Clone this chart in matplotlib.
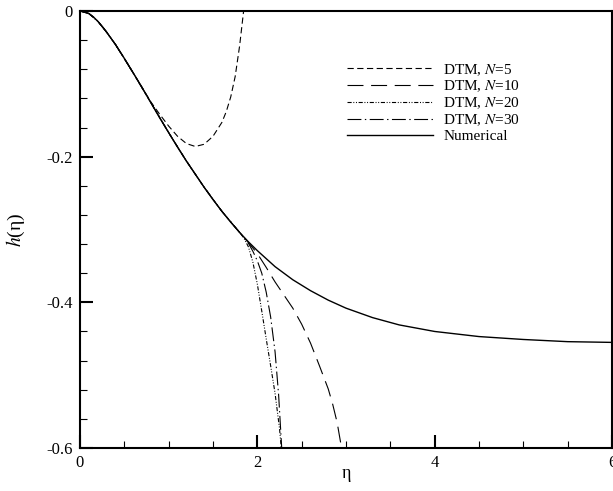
import numpy as np
import matplotlib
matplotlib.use("Agg")
import matplotlib.pyplot as plt

plt.rcParams['font.family'] = ['Liberation Serif', 'DejaVu Serif']
plt.rcParams['mathtext.fontset'] = 'stix'
plt.rcParams['axes.unicode_minus'] = False
plt.rcParams['lines.scale_dashes'] = False

eta_num = [0, 0.05, 0.1, 0.15, 0.2, 0.25, 0.3, 0.4, 0.5, 0.6, 0.7, 0.8, 0.9, 1.0, 1.1,
           1.2, 1.3, 1.4, 1.5, 1.6, 1.7, 1.8, 1.9, 2.0, 2.2, 2.4, 2.6, 2.8, 3.0, 3.3,
           3.6, 4.0, 4.5, 5.0, 5.5, 6.0]
h_num = [0, -0.001, -0.0035, -0.008, -0.014, -0.021, -0.029, -0.046, -0.065, -0.085,
         -0.105, -0.126, -0.147, -0.167, -0.187, -0.206, -0.224, -0.242, -0.259,
         -0.275, -0.290, -0.304, -0.317, -0.329, -0.351, -0.369, -0.384, -0.397,
         -0.408, -0.421, -0.431, -0.440, -0.447, -0.451, -0.454, -0.455]

# DTM benaderingen
eta_n5 = [0, 0.05, 0.1, 0.15, 0.2, 0.25, 0.3, 0.4, 0.5, 0.6, 0.7, 0.8, 0.9, 1.0, 1.1,
          1.2, 1.3, 1.4, 1.5, 1.6, 1.65, 1.7, 1.75, 1.8, 1.85]
h_n5 = [0, -0.001, -0.0035, -0.008, -0.014, -0.021, -0.029, -0.046, -0.065, -0.085,
        -0.105, -0.125, -0.142, -0.158, -0.172, -0.182, -0.186, -0.183, -0.172,
        -0.153, -0.138, -0.118, -0.090, -0.048, 0.005]

eta_n10 = [0, 0.1, 0.2, 0.3, 0.4, 0.6, 0.8, 1.0, 1.2, 1.4, 1.6, 1.8, 1.9, 2.0, 2.1,
           2.2, 2.3, 2.4, 2.5, 2.6, 2.7, 2.8, 2.85, 2.9, 2.95]
h_n10 = [0, -0.0035, -0.014, -0.029, -0.046, -0.085, -0.126, -0.167, -0.206, -0.242,
         -0.275, -0.304, -0.318, -0.333, -0.352, -0.372, -0.390, -0.408, -0.430,
         -0.456, -0.487, -0.519, -0.540, -0.565, -0.600]

eta_n20 = [0, 0.1, 0.2, 0.3, 0.4, 0.6, 0.8, 1.0, 1.2, 1.4, 1.6, 1.8, 1.85, 1.9, 1.95,
           2.0, 2.05, 2.1, 2.15, 2.2, 2.25, 2.27]
h_n20 = [0, -0.0035, -0.014, -0.029, -0.046, -0.085, -0.126, -0.167, -0.206, -0.242,
         -0.275, -0.304, -0.312, -0.324, -0.345, -0.375, -0.412, -0.450, -0.487,
         -0.525, -0.573, -0.600]

eta_n30 = [0, 0.1, 0.2, 0.3, 0.4, 0.6, 0.8, 1.0, 1.2, 1.4, 1.6, 1.8, 1.85, 1.9, 1.95,
           2.0, 2.05, 2.1, 2.15, 2.2, 2.24, 2.275]
h_n30 = [0, -0.0035, -0.014, -0.029, -0.046, -0.085, -0.126, -0.167, -0.206, -0.242,
         -0.275, -0.304, -0.311, -0.319, -0.330, -0.343, -0.360, -0.386, -0.420,
         -0.468, -0.527, -0.600]

fig = plt.figure(figsize=(6.13, 4.91), dpi=100)
ax = fig.add_axes([80/613, 1 - 448/491, 532/613, 437/491])

lw = 0.8
ax.plot(eta_n5, h_n5, color='k', lw=lw, dashes=(4.5, 2.5), label='DTM, $N$=5')
ax.plot(eta_n10, h_n10, color='k', lw=lw, dashes=(11.5, 5.5), label='DTM, $N$=10')
ax.plot(eta_n20, h_n20, color='k', lw=lw, dashes=(3, 1.2, 0.7, 1.2, 0.7, 1.2), label='DTM, $N$=20')
ax.plot(eta_n30, h_n30, color='k', lw=lw, dashes=(10, 2.5, 1, 2.5), label='DTM, $N$=30')
ax.plot(eta_num, h_num, color='k', lw=1.0, label='Numerical')

ax.set_xlim(0, 6)
ax.set_ylim(-0.6, 0)
ax.set_xticks([0, 2, 4, 6])
ax.set_xticklabels(['0', '2', '4', '6'])
ax.set_yticks([0, -0.2, -0.4, -0.6])
ax.set_yticklabels(['0', '-0.2', '-0.4', '-0.6'])
ax.set_xticks(np.arange(0, 6.01, 0.5), minor=True)
ax.set_yticks(np.arange(-0.6, 0.001, 0.04), minor=True)

ax.tick_params(which='both', direction='in', top=False, right=False, labelsize=12)
ax.tick_params(which='major', length=9.5, width=1.5, pad=5)
ax.tick_params(which='minor', length=5, width=0.8)
for s in ax.spines.values():
    s.set_linewidth(1.5)

ax.set_xlabel('η', fontsize=13)
ax.set_ylabel('$h$(η)', fontsize=14)
ax.xaxis.set_label_coords(0.5, -0.04)
ax.yaxis.set_label_coords(-0.1, 0.5)

ax.legend(loc='upper left', bbox_to_anchor=((347-80)/532, (448-62)/437),
          frameon=False, fontsize=11, handlelength=5.6, handletextpad=0.7,
          labelspacing=0.08, borderpad=0, borderaxespad=0)

fig.savefig('out.png', dpi=100)
